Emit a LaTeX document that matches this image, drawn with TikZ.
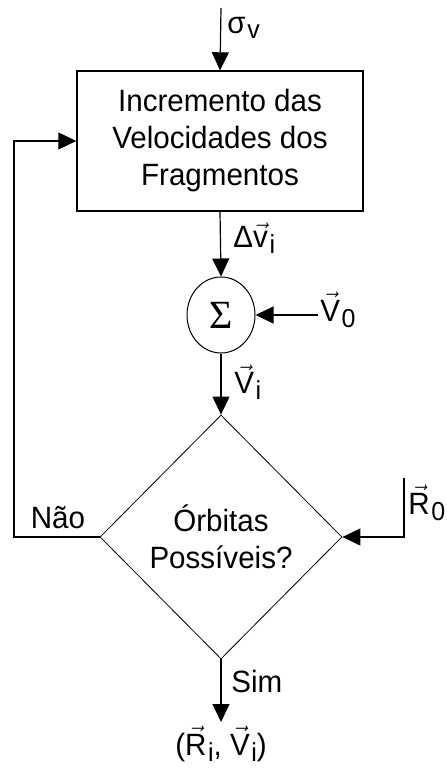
\documentclass[tikz,border=0pt]{standalone}
\usepackage{fontspec}
\setmainfont{Liberation Sans}[FakeStretch=0.96]
\newfontfamily\sigmafont{Liberation Serif}
\usetikzlibrary{shapes.geometric,arrows.meta}
\newcommand{\vecl}[1]{\ensuremath{\vec{\mbox{#1}}}}
\newcommand{\lowsub}[1]{\kern0.8pt\raisebox{-0.35ex}{\fontsize{13}{13}\selectfont#1}}
\tikzset{
  flowline/.style={line width=0.6pt,-{Triangle[length=9pt,width=8.5pt]}},
  blockbox/.style={draw,line width=0.7pt,minimum width=143pt,minimum height=70pt,inner sep=0pt,align=center},
  sumnode/.style={draw,ellipse,line width=0.5pt,minimum width=34pt,minimum height=38pt,inner sep=0pt},
  testnode/.style={draw,diamond,line width=0.4pt,minimum width=121pt,minimum height=122pt,inner sep=0pt,align=center},
  lbl/.style={inner sep=0pt,anchor=west}
}
\begin{document}
\begin{tikzpicture}[x=0.5pt,y=-0.5pt,font=\fontsize{15.4}{18.5}\selectfont]
\useasboundingbox (0,0) rectangle (446,774);

% blocks
\node (box) [blockbox] at (220,141) {Incremento das\\Velocidades dos\\Fragmentos};
\node (sum) [sumnode] at (221,315) {\sigmafont\fontsize{20}{20}\selectfont Σ};
\node (test) [testnode] at (221,537) {Órbitas\\Possíveis?};
\node (out) [anchor=north,inner sep=2pt] at (221,722) {(\vecl{R}\lowsub{i}, \vecl{V}\lowsub{i})};

% free ends
\coordinate (sigma) at (221,8);
\coordinate (vzero) at (318,315);
\coordinate (rzero) at (404,478);
\coordinate (looptop) at (14,141);

% connectors
\draw[flowline] (sigma) -- (box.north);
\draw[flowline] (box.south) -- (sum.north);
\draw[flowline] (vzero) -- (sum.east);
\draw[flowline] (sum.south) -- (test.north);
\draw[flowline] (rzero) |- (test.east);
\draw[flowline] (test.west) -| (looptop) -- (box.west);
\draw[flowline] (test.south) -- (out.north);

% labels
\node (sigmalbl) [lbl] at (227,28) {σ\lowsub{v}};
\node (dvlbl) [lbl] at (233,238) {Δ\vecl{v}\lowsub{i}};
\node (vzerolbl) [lbl] at (320,310) {\vecl{V}\lowsub{0}};
\node (vilbl) [lbl] at (234,382) {\vecl{V}\lowsub{i}};
\node (naolbl) at (58,518) {Não};
\node (rzerolbl) [lbl] at (408,503) {\vecl{R}\lowsub{0}};
\node (simlbl) [lbl] at (231,681) {Sim};

\end{tikzpicture}
\end{document}
